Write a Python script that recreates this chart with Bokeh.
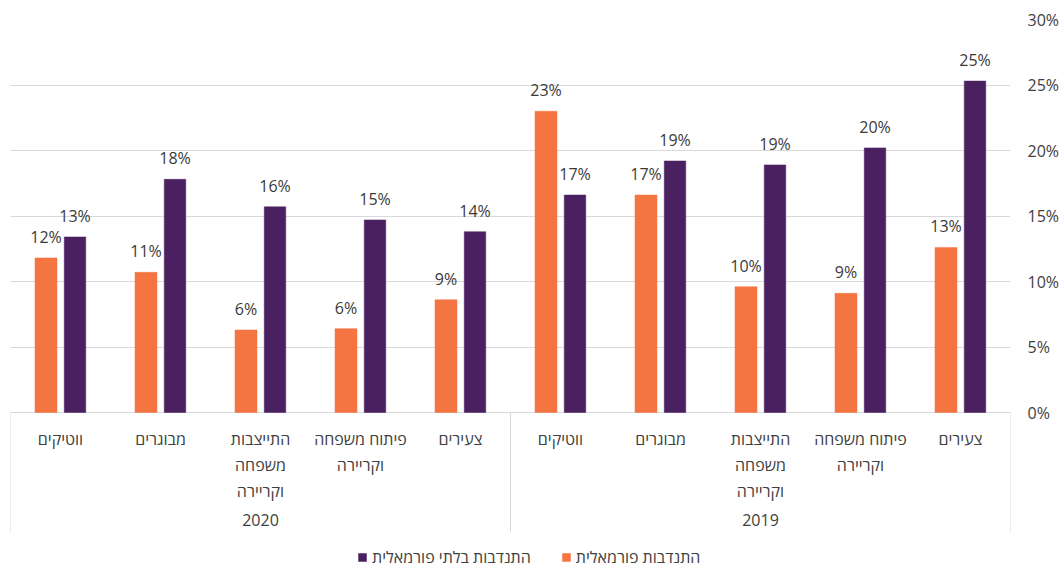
from bokeh.plotting import figure
from bokeh.models import (FactorRange, Range1d, FixedTicker, PrintfTickFormatter,
                          Legend, LegendItem, ColumnDataSource)
from bokeh.transform import dodge
from bokeh.core.properties import value
from bokeh.embed import file_html
from bokeh.resources import INLINE

# ---------------- data ----------------
years = ["2020", "2019"]
groups = ["ווטיקים", "מבוגרים", "התייצבות\nמשפחה\nוקריירה", "פיתוח משפחה\nוקריירה", "צעירים"]
formal_2020 = [11.8, 10.7, 6.3, 6.4, 8.6]
informal_2020 = [13.4, 17.8, 15.7, 14.7, 13.8]
formal_2019 = [23.0, 16.6, 9.6, 9.1, 12.6]
informal_2019 = [16.6, 19.2, 18.9, 20.2, 25.3]
y_ticks = [0, 5, 10, 15, 20, 25, 30]
series_names = ["התנדבות בלתי פורמאלית", "התנדבות פורמאלית"]

# ---------------- styling / layout ----------------
ORANGE = "#F47542"
PURPLE = "#4B2060"
GRID = "#D9D9D9"
TXT = "#404040"
FONT = "Open Sans"

W, H = 1064, 569
TOP, LEFT, RIGHT = 19, 10, 54
PLOT_PX = 393.0            # pixels from 0% to 30%
PX = PLOT_PX / 30.0        # pixels per percentage point
frame_h = H - TOP
y_start = 30.0 - frame_h / PX


def below(px):
    """data y for a point `px` pixels below the 0% baseline"""
    return -px / PX


factors = [(y, g) for y in years for g in groups]
formal = formal_2020 + formal_2019
informal = informal_2020 + informal_2019

src = ColumnDataSource(dict(
    x=factors,
    formal=formal,
    informal=informal,
    formal_lbl=[f"{v:.0f}%" for v in formal],
    informal_lbl=[f"{v:.0f}%" for v in informal],
    glabel=[g for y in years for g in groups],
))

p = figure(width=W, height=H,
           x_range=FactorRange(*factors, range_padding=0, group_padding=0,
                               factor_padding=0, subgroup_padding=0),
           y_range=Range1d(y_start, 30),
           x_axis_location=None, y_axis_location="right",
           output_backend="svg", toolbar_location=None,
           min_border_left=LEFT, min_border_right=RIGHT,
           min_border_top=TOP, min_border_bottom=0)
p.outline_line_color = None
p.background_fill_color = "white"
p.border_fill_color = "white"

# y axis
ax = p.yaxis[0]
ax.ticker = FixedTicker(ticks=y_ticks)
ax.formatter = PrintfTickFormatter(format="%d%%")
ax.axis_line_color = None
ax.major_tick_line_color = None
ax.minor_tick_line_color = None
ax.major_tick_out = 0
ax.major_label_standoff = 17
ax.major_label_text_font = FONT
ax.major_label_text_font_size = "16px"
ax.major_label_text_color = TXT

p.xgrid.visible = False
p.ygrid.ticker = FixedTicker(ticks=y_ticks)
p.ygrid.grid_line_color = GRID
p.ygrid.grid_line_width = 1

# bars
r_for = p.vbar(x=dodge("x", -0.145, range=p.x_range), top="formal", width=0.22,
               source=src, fill_color=ORANGE, line_color=ORANGE, line_width=0.5)
r_inf = p.vbar(x=dodge("x", 0.145, range=p.x_range), top="informal", width=0.215,
               source=src, fill_color=PURPLE, line_color=PURPLE, line_width=0.5)

# data labels
for col, off in (("formal", -0.145), ("informal", 0.145)):
    p.text(x=dodge("x", off, range=p.x_range), y=col, text=col + "_lbl", source=src,
           text_align="center", text_baseline="alphabetic", y_offset=-21,
           text_font=value(FONT), text_font_size="16px", text_color="#3A3A3A")

# category labels (first level)
p.text(x="x", y=below(15), text="glabel", source=src,
       text_align="center", text_baseline="top", text_line_height=1.2,
       text_font=value(FONT), text_font_size="16px", text_color=TXT)

# year labels (second level)
p.text(x=years, y=[below(107.5)] * len(years), text=years,
       text_align="center", text_baseline="middle",
       text_font=value(FONT), text_font_size="16px", text_color=TXT)

# group separators of the category axis
sep_x = [(years[0], groups[0], -0.5), (years[1], groups[0], -0.5), (years[1], groups[-1], 0.5)]
p.segment(x0=sep_x, x1=sep_x, y0=[0] * 3, y1=[below(120)] * 3,
          line_color=GRID, line_width=1)

# legend
legend = Legend(items=[LegendItem(label=series_names[0], renderers=[r_inf]),
                       LegendItem(label=series_names[1], renderers=[r_for])],
                orientation="horizontal", location=(347, 1),
                glyph_width=10, glyph_height=10, label_standoff=5, spacing=30,
                padding=0, margin=0, border_line_color=None,
                background_fill_alpha=0,
                label_text_font=FONT, label_text_font_size="16px",
                label_text_color=TXT)
p.add_layout(legend)

open("out.html", "w").write(file_html(p, INLINE))
